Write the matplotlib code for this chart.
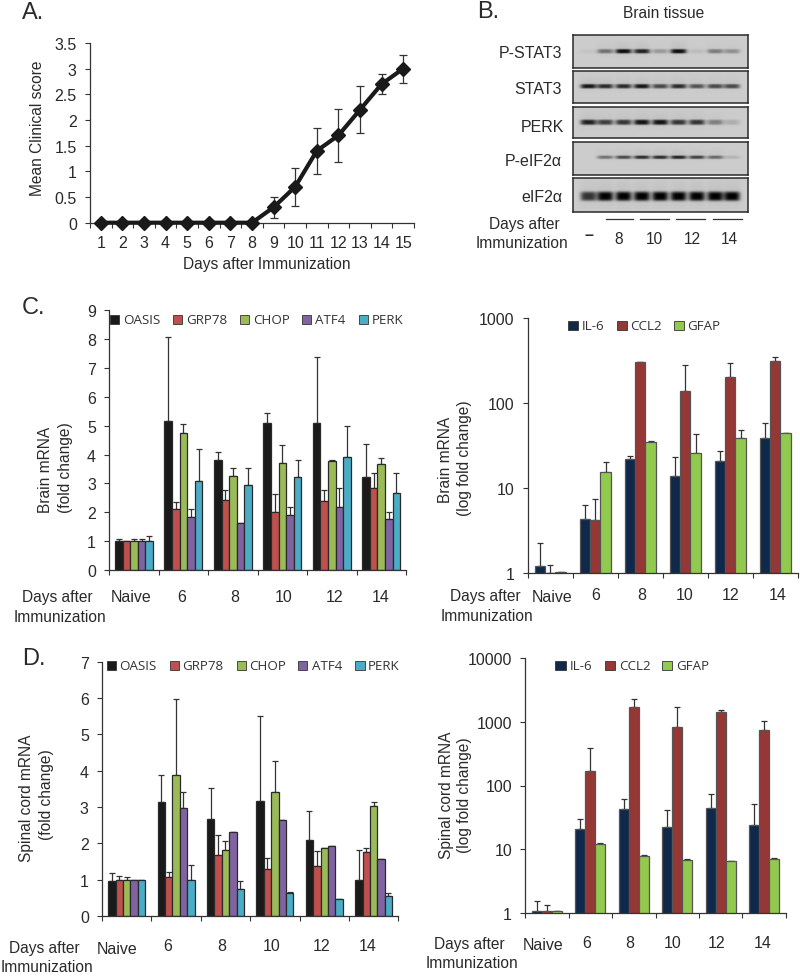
import numpy as np
import matplotlib
matplotlib.use('Agg')
import matplotlib.pyplot as plt
from matplotlib.patches import Rectangle

plt.rcParams['font.family'] = ['Liberation Sans', 'DejaVu Sans']
plt.rcParams['font.size'] = 11.2
plt.rcParams['text.color'] = '#2a2a2a'

W, H = 800, 978
LABEL = 11.2
TICK = 11.5
LEGEND = 9.6

# panel A
days = list(range(1, 16))
score = [0, 0, 0, 0, 0, 0, 0, 0, 0.3, 0.7, 1.4, 1.7, 2.2, 2.7, 3.0]
score_err = [0, 0, 0, 0, 0, 0, 0, 0, 0.2, 0.37, 0.45, 0.51, 0.46, 0.19, 0.27]

# panel B, band darkness per lane
lanes_b = ['-', '8', '8', '10', '10', '12', '12', '14', '14']
blot_names = ['P-STAT3', 'STAT3', 'PERK', 'P-eIF2α', 'eIF2α']
pstat3 = [0.04, 0.45, 0.95, 0.85, 0.25, 0.95, 0.08, 0.4, 0.3]
stat3 = [0.9, 0.8, 0.8, 0.9, 0.65, 0.8, 0.6, 0.65, 0.65]
perk_blot = [0.85, 0.7, 0.75, 0.92, 0.92, 0.75, 0.75, 0.38, 0.15]
peif2a = [0.0, 0.45, 0.65, 0.8, 0.8, 0.85, 0.7, 0.5, 0.12]
eif2a = [0.75, 1.0, 1.0, 1.0, 1.0, 1.0, 1.0, 1.0, 1.0]

# panels C and D
groups = ['Naive', '6', '8', '10', '12', '14']
er_genes = ['OASIS', 'GRP78', 'CHOP', 'ATF4', 'PERK']
er_colors = ['#1b1a1a', '#c0504d', '#9bbb59', '#8064a2', '#4bacc6']
inf_genes = ['IL-6', 'CCL2', 'GFAP']
inf_colors = ['#10294a', '#953735', '#92c94f']

brain_er = [
    [1.0, 5.15, 3.82, 5.08, 5.08, 3.23],
    [1.0, 2.1, 2.42, 2.0, 2.38, 2.85],
    [1.0, 4.75, 3.27, 3.7, 3.78, 3.68],
    [1.0, 1.85, 1.63, 1.9, 2.17, 1.77],
    [1.0, 3.1, 2.93, 3.23, 3.9, 2.68],
]
brain_er_top = [
    [1.08, 8.07, 4.1, 5.45, 7.38, 4.37],
    [1.0, 2.35, 2.77, 2.63, 2.77, 3.35],
    [1.08, 5.05, 3.55, 4.32, 3.8, 3.88],
    [1.08, 2.1, 1.63, 2.2, 2.85, 2.0],
    [1.17, 4.2, 3.52, 3.8, 5.0, 3.35],
]
brain_inf = [
    [1.2, 4.3, 22, 14, 21, 39],
    [1.0, 4.2, 305, 138, 205, 315],
    [1.03, 15.5, 35, 26, 39, 44],
]
brain_inf_top = [
    [2.25, 6.3, 24, 23.5, 27, 58],
    [1.25, 7.5, 305, 280, 295, 350],
    [1.03, 20.5, 36, 43, 49, 44.5],
]
spinal_er = [
    [0.97, 3.15, 2.67, 3.17, 2.1, 1.0],
    [1.0, 1.07, 1.67, 1.3, 1.37, 1.77],
    [1.0, 3.87, 1.83, 3.4, 1.87, 3.03],
    [1.0, 2.97, 2.3, 2.65, 1.93, 1.57],
    [1.0, 0.98, 0.75, 0.62, 0.48, 0.56],
]
spinal_er_top = [
    [1.17, 3.87, 3.53, 5.5, 2.9, 1.83],
    [1.1, 1.2, 2.23, 1.6, 1.8, 1.87],
    [1.07, 5.97, 2.07, 4.27, 1.87, 3.13],
    [1.0, 3.4, 2.3, 2.65, 1.93, 1.57],
    [1.0, 1.4, 0.95, 0.65, 0.48, 0.62],
]
spinal_inf = [
    [1.05, 20.5, 43, 22, 45, 24],
    [1.05, 170, 1700, 820, 1420, 750],
    [1.05, 12, 7.7, 6.8, 6.4, 7.1],
]
spinal_inf_top = [
    [1.55, 30, 62, 41, 73, 52],
    [1.3, 385, 2300, 1700, 1550, 1040],
    [1.05, 12.3, 8.1, 7.1, 6.5, 7.2],
]


def px_axes(fig, left, top, right, bottom):
    return fig.add_axes([left / W, 1 - bottom / H, (right - left) / W, (bottom - top) / H])


def style_axes(ax):
    ax.spines['top'].set_visible(False)
    ax.spines['right'].set_visible(False)
    for side in ['left', 'bottom']:
        ax.spines[side].set_color('#333333')
        ax.spines[side].set_linewidth(0.9)
    ax.tick_params(axis='both', which='major', length=3.5, width=0.8, color='#333333',
                   labelsize=TICK, labelcolor='#2a2a2a')
    ax.tick_params(axis='y', pad=6)


def bar_panel(rect, values, tops, colors, bar_px, ylim, yticks, ylabels, log=False, edge='#2a2a2a'):
    ax = px_axes(fig, *rect)
    group_px = (rect[2] - rect[0]) / len(groups)
    width = bar_px / group_px
    n = len(values)
    x = np.arange(len(groups)) + 0.5
    for i in range(n):
        xs = x + (i - (n - 1) / 2) * width
        v = np.array(values[i], dtype=float)
        t = np.array(tops[i], dtype=float)
        ax.errorbar(xs, v, yerr=[np.zeros(len(v)), t - v], fmt='none', ecolor='#333333',
                    elinewidth=0.9, capsize=2.2, capthick=0.9, zorder=1)
        ax.bar(xs, v, width, color=colors[i], edgecolor=edge, linewidth=0.9, log=log, zorder=2)
    if log:
        ax.set_yscale('log')
    ax.set_xlim(0, len(groups))
    ax.set_ylim(*ylim)
    ax.set_xticks(np.arange(len(groups) + 1))
    ax.set_xticklabels([])
    ax.set_yticks(yticks)
    ax.set_yticklabels(ylabels)
    ax.minorticks_off()
    style_axes(ax)
    return ax


def legend(names, colors, square_x, text_x, y):
    for name, color, (x0, x1), tx in zip(names, colors, square_x, text_x):
        ov.add_patch(Rectangle((x0, y - 4.5), x1 - x0, 9, facecolor=color, edgecolor='#333333', linewidth=0.6))
        ov.text(tx, y, name, family='Open Sans', fontsize=LEGEND, color='#333333', va='center', ha='left')


def x_labels(positions, y_labels, y_num):
    for name, xp in zip(groups, positions):
        ov.text(xp, y_labels if name == 'Naive' else y_num, name, ha='center', va='center', fontsize=TICK)


fig = plt.figure(figsize=(W / 100, H / 100), dpi=100)

# A
ax_a = px_axes(fig, 90, 44, 414, 223.7)
ax_a.errorbar(days, score, yerr=score_err, fmt='none', ecolor='#333333', elinewidth=0.9, capsize=3, capthick=0.9)
ax_a.plot(days, score, color='#1a1a1a', lw=3, marker='D', ms=7.5, clip_on=False, zorder=3)
ax_a.set_xlim(0.5, 15.5)
ax_a.set_ylim(0, 3.5)
ax_a.set_xticks(np.arange(0.5, 16))
ax_a.set_xticklabels([])
ax_a.set_yticks([0, 0.5, 1, 1.5, 2, 2.5, 3, 3.5])
ax_a.set_yticklabels(['0', '0.5', '1', '1.5', '2', '2.5', '3', '3.5'])
style_axes(ax_a)

# C and D
bar_panel((109.3, 311.3, 406, 571), brain_er, brain_er_top, er_colors, 7.6, (0, 9),
          range(10), [str(i) for i in range(10)])
bar_panel((527.7, 319.3, 797.7, 574), brain_inf, brain_inf_top, inf_colors, 10.4, (1, 1000),
          [1, 10, 100, 1000], ['1', '10', '100', '1000'], log=True, edge='#555555')
bar_panel((102, 662.7, 398.3, 917), spinal_er, spinal_er_top, er_colors, 7.4, (0, 7),
          range(8), [str(i) for i in range(8)])
bar_panel((525.3, 659.3, 785.7, 913.7), spinal_inf, spinal_inf_top, inf_colors, 10, (1, 10000),
          [1, 10, 100, 1000, 10000], ['1', '10', '100', '1000', '10000'], log=True, edge='#555555')

# B, blots drawn from the band darkness lists
blot_boxes = [(36, 69), (72, 104), (108, 139), (143, 176), (179, 213)]
blot_bands = [pstat3, stat3, perk_blot, peif2a, eif2a]
band_y = [52, 87, 123, 158, 197]
band_h = [2.2, 2.2, 2.6, 1.7, 4.6]
lane_x = np.array([475, 525, 580, 635, 690, 745, 800, 855, 905]) / 3 + 430
for box, bands, by, bh in zip(blot_boxes, blot_bands, band_y, band_h):
    ax = px_axes(fig, 573, box[0], 748, box[1])
    xx, yy = np.meshgrid(np.arange(573, 748, 0.5), np.arange(box[0], box[1], 0.5))
    img = np.full(xx.shape, 0.8)
    for lx, d in zip(lane_x, bands):
        core = np.exp(-((xx - lx) / 8.0) ** 4 - ((yy - by) / bh) ** 4)
        halo = np.exp(-((xx - lx) / 8.5) ** 4 - ((yy - by + 3) / (bh * 3)) ** 2)
        img -= 0.76 * d * core + 0.04 * d * halo
    ax.imshow(np.clip(img, 0, 1), cmap='gray', vmin=0, vmax=1, aspect='auto',
              extent=(573, 748, box[1], box[0]), interpolation='bilinear')
    ax.set_xticks([])
    ax.set_yticks([])
    for s in ax.spines.values():
        s.set_color('#2a2a2a')
        s.set_linewidth(1.1)

# pixel overlay for the free text
ov = fig.add_axes([0, 0, 1, 1], zorder=10)
ov.set_xlim(0, W)
ov.set_ylim(H, 0)
ov.axis('off')

for letter, lx, ly in [('A.', 22, 13), ('B.', 477, 12), ('C.', 22, 308), ('D.', 22, 659)]:
    ov.text(lx, ly, letter, fontsize=17, va='center', ha='left')

for d in days:
    ov.text(90 + (d - 0.5) * 21.6, 244, str(d), ha='center', va='center', fontsize=TICK)
ov.text(266.7, 265, 'Days after Immunization', ha='center', va='center', fontsize=LABEL)
ov.text(37.7, 128, 'Mean Clinical score', rotation=90, ha='center', va='center', fontsize=LABEL)

# B text
ov.text(664, 14, 'Brain tissue', ha='center', va='center', fontsize=LABEL)
blot_label_xy = [(562, 53), (562, 89), (564, 128), (562, 161), (562, 197)]
for name, (tx, ty) in zip(blot_names, blot_label_xy):
    ov.text(tx, ty, name, ha='right', va='center', fontsize=TICK)
ov.text(524, 224, 'Days after', ha='center', va='center', fontsize=LABEL)
ov.text(522, 243, 'Immunization', ha='center', va='center', fontsize=LABEL)
ov.text(589, 236, '–', ha='center', va='center', fontsize=TICK, fontweight='bold')
day_spans = [(605.7, 633), (640, 669), (676, 705), (713, 742)]
for (x0, x1), name, tx in zip(day_spans, ['8', '10', '12', '14'], [619, 654, 692, 729]):
    ov.plot([x0, x1], [220, 220], color='#333333', lw=0.9)
    ov.text(tx, 239, name, ha='center', va='center', fontsize=LABEL)

# C left text
ov.text(45, 470, 'Brain mRNA', rotation=90, ha='center', va='center', fontsize=LABEL)
ov.text(65.7, 468, '(fold change)', rotation=90, ha='center', va='center', fontsize=LABEL)
x_labels([131, 181.7, 235, 284, 335, 381], 598, 597)
ov.text(57, 597.7, 'Days after', ha='center', va='center', fontsize=LABEL)
ov.text(60, 617, 'Immunization', ha='center', va='center', fontsize=LABEL)
legend(er_genes, er_colors, [(110, 119), (173, 182), (240, 249), (302, 311), (358.5, 368)],
       [123, 186, 253.5, 315, 372], 320.7)

# C right text
ov.text(445, 460, 'Brain mRNA', rotation=90, ha='center', va='center', fontsize=LABEL)
ov.text(465, 457.7, '(log fold change)', rotation=90, ha='center', va='center', fontsize=LABEL)
x_labels([551.7, 596, 641.7, 685, 730.7, 778], 598, 596)
ov.text(485, 597, 'Days after', ha='center', va='center', fontsize=LABEL)
ov.text(487, 616.7, 'Immunization', ha='center', va='center', fontsize=LABEL)
legend(inf_genes, inf_colors, [(567.5, 578), (617, 627), (673.5, 683.5)], [582, 630, 687.5], 326.7)

# D left text
ov.text(26.7, 798, 'Spinal cord mRNA', rotation=90, ha='center', va='center', fontsize=LABEL)
ov.text(46.7, 795, '(fold change)', rotation=90, ha='center', va='center', fontsize=LABEL)
x_labels([117, 168, 221.7, 271.7, 321.7, 367.7], 949, 946.7)
ov.text(44, 948, 'Days after', ha='center', va='center', fontsize=LABEL)
ov.text(46.7, 968, 'Immunization', ha='center', va='center', fontsize=LABEL)
legend(er_genes, er_colors, [(106.5, 116), (170, 179), (236.5, 245.5), (298, 307), (355, 365)],
       [119.5, 182.5, 249.5, 311.5, 368], 666)

# D right text
ov.text(446, 795, 'Spinal cord mRNA', rotation=90, ha='center', va='center', fontsize=LABEL)
ov.text(465, 795, '(log fold change)', rotation=90, ha='center', va='center', fontsize=LABEL)
x_labels([542.7, 586.7, 630, 672.7, 716.7, 762.7], 945, 943)
ov.text(469, 945, 'Days after', ha='center', va='center', fontsize=LABEL)
ov.text(471.7, 964, 'Immunization', ha='center', va='center', fontsize=LABEL)
legend(inf_genes, inf_colors, [(555, 565.5), (605, 615), (661.5, 671.5)], [570, 619, 676], 666.7)

fig.savefig('out.png', dpi=100)
